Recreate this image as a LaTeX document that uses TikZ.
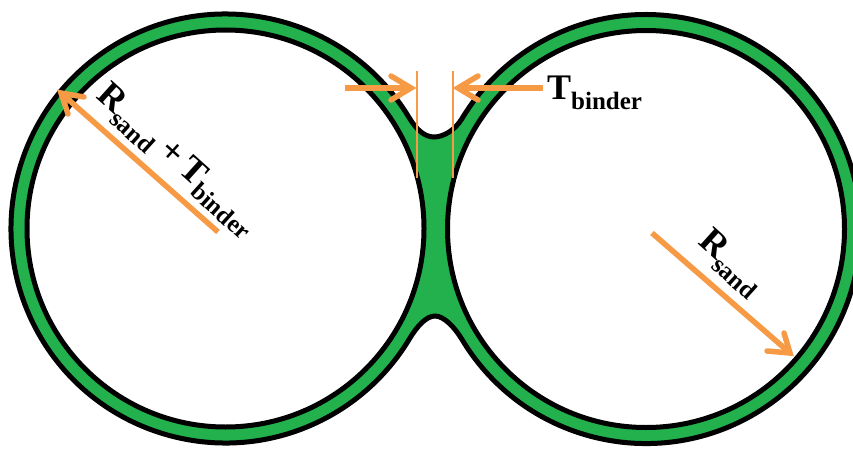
\documentclass[tikz,border=0pt]{standalone}
\usepackage{fontspec}
\setmainfont{Liberation Serif}
\definecolor{bindergreen}{HTML}{22B14C}
\definecolor{arroworange}{HTML}{F79A45}
\newcommand{\biglab}[1]{{\fontsize{36}{36}\selectfont\bfseries #1}}
\newcommand{\sublab}[1]{\raisebox{-9pt}{\fontsize{25}{25}\selectfont\bfseries #1}}
\tikzset{
  outline/.style={draw=black,line width=5pt},
  arrowline/.style={draw=arroworange,line width=5.5pt,line cap=butt},
  arrowhead/.style={draw=arroworange,line width=5.5pt,line cap=round,line join=miter,miter limit=10},
  guide/.style={draw=arroworange,line width=1.5pt},
  lab/.style={inner sep=0pt,anchor=base west,text=black},
}
\begin{document}
\begin{tikzpicture}[x=1pt,y=1pt]
\useasboundingbox (0,0) rectangle (853,448);
\clip (0,0) rectangle (853,448);
% binder: outer contour of the two joined spheres
\path[outline,fill=bindergreen]
  (225.5,219.5) ++(31:214.5) arc[start angle=31,end angle=329,radius=214.5]
  .. controls +(59:14) and +(180:9) .. (435,132)
  .. controls +(0:9) and +(121:14) .. (462,108.5)
  arc[start angle=211,end angle=509,radius=214.5]
  .. controls +(239:14) and +(0:9) .. (434,311)
  .. controls +(180:9) and +(301:14) .. cycle;
% sand grains
\node[circle,outline,fill=white,minimum size=397pt,inner sep=0pt] (sandL) at (225.5,219.5) {};
\node[circle,outline,fill=white,minimum size=397pt,inner sep=0pt] (sandR) at (646,219) {};
% guides
\coordinate (g1a) at (417,377); \coordinate (g1b) at (417,270);
\coordinate (g2a) at (453,377); \coordinate (g2b) at (453,270);
\draw[guide] (g1a) -- (g1b);
\draw[guide] (g2a) -- (g2b);
% left radius arrow
\coordinate (aLtail) at (218,216); \coordinate (aLtip) at (61,355);
\coordinate (aLb1) at (84,351); \coordinate (aLb2) at (68,334);
\draw[arrowline] (aLtail) -- (aLtip);
\draw[arrowhead] (aLb1) -- (aLtip) -- (aLb2);
% right radius arrow
\coordinate (aRtail) at (652,215); \coordinate (aRtip) at (790,95);
\coordinate (aRb1) at (767,97); \coordinate (aRb2) at (784,115);
\draw[arrowline] (aRtail) -- (aRtip);
\draw[arrowhead] (aRb1) -- (aRtip) -- (aRb2);
% thickness arrows
\coordinate (tLtail) at (345,360); \coordinate (tLtip) at (411,360);
\coordinate (tLb1) at (391,372); \coordinate (tLb2) at (391,348);
\draw[arrowline] (tLtail) -- (tLtip);
\draw[arrowhead] (tLb1) -- (tLtip) -- (tLb2);
\coordinate (tRtail) at (543,360); \coordinate (tRtip) at (458,360);
\coordinate (tRb1) at (478,372); \coordinate (tRb2) at (478,348);
\draw[arrowline] (tRtail) -- (tRtip);
\draw[arrowhead] (tRb1) -- (tRtip) -- (tRb2);
% labels
\node[lab] (labT) at (547,348) {\biglab{T}\sublab{binder}};
\node[lab,rotate=-42] (labL) at (95,351) {\biglab{R}\sublab{sand}\hspace{8pt}\biglab{+}\hspace{6pt}\biglab{T}\sublab{binder}};
\node[lab,rotate=-42] (labR) at (697,205) {\biglab{R}\sublab{sand}};
\end{tikzpicture}
\end{document}
